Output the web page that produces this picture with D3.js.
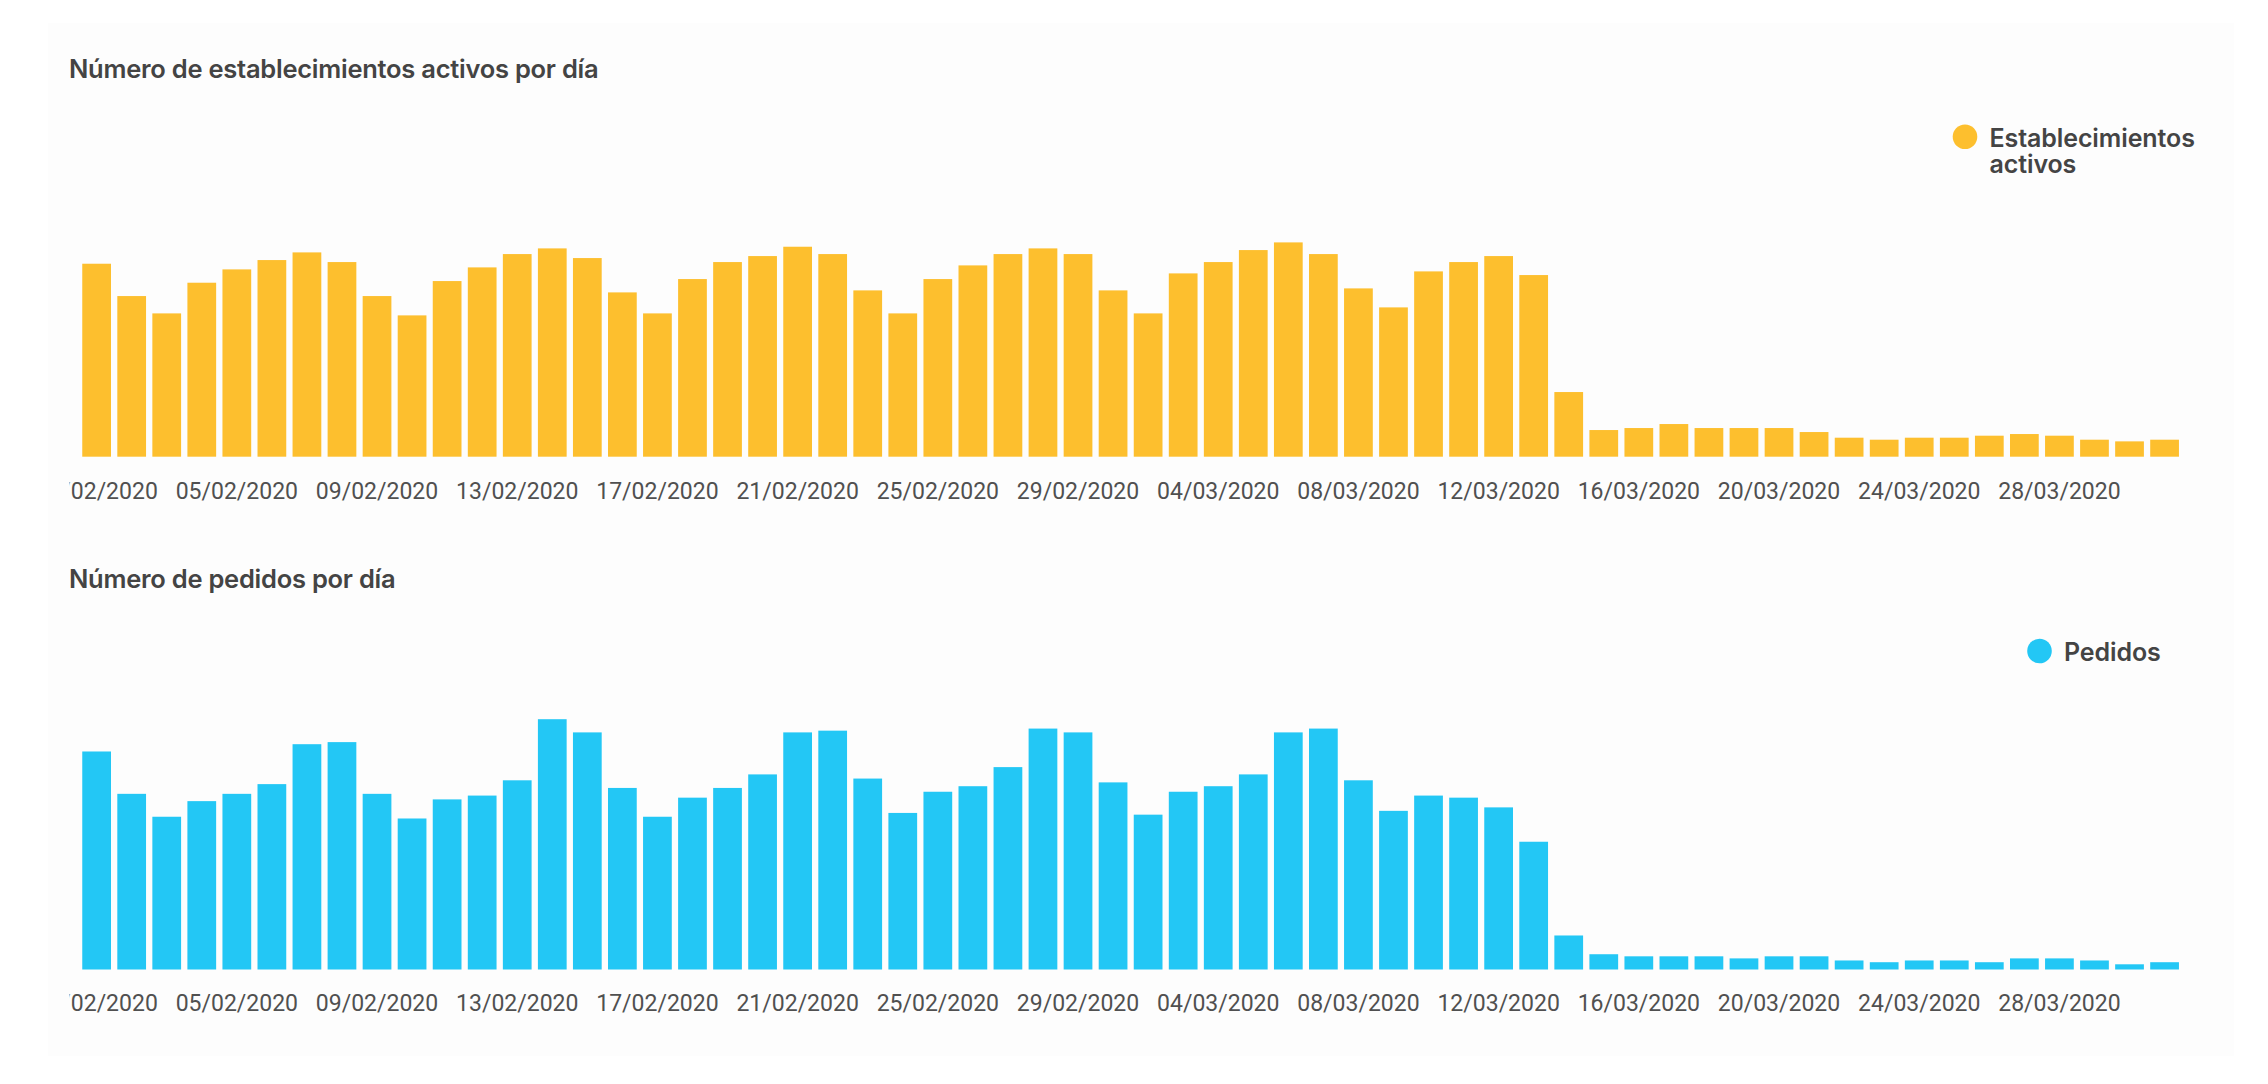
<!DOCTYPE html>
<html>
<head>
<meta charset="utf-8">
<script src="https://cdn.jsdelivr.net/npm/d3@7"></script>
<style>
  html, body { margin: 0; padding: 0; background: #ffffff; }
  svg { display: block; }
</style>
</head>
<body>
<svg id="chart" width="2268" height="1084"></svg>
<script>
// ---------- DATA ----------
const startDate = "2020-02-01";
const dayCount = 60; // 01/02/2020 .. 31/03/2020
const tickEvery = 4;

const titleTop = "Número de establecimientos activos por día";
const titleBottom = "Número de pedidos por día";
const legendTop = ["Establecimientos", "activos"];
const legendBottom = ["Pedidos"];

// relative values (no y axis shown)
const establecimientos = [
  579, 482, 430, 522, 562, 590, 613, 584, 482, 424,
  527, 568, 608, 625, 596, 493, 430, 533, 584, 602,
  630, 608, 499, 430, 533, 574, 608, 625, 608, 499,
  430, 550, 584, 620, 643, 608, 505, 448, 556, 584,
  602, 545, 194, 80, 86, 98, 86, 86, 86, 74,
  57, 51, 57, 57, 63, 68, 63, 51, 46, 51
];
const pedidos = [
  628, 506, 440, 485, 506, 534, 649, 655, 506, 435,
  490, 501, 545, 721, 683, 523, 440, 495, 523, 562,
  683, 688, 550, 451, 512, 528, 583, 694, 683, 539,
  446, 512, 528, 562, 683, 694, 545, 457, 501, 495,
  467, 368, 98, 44, 38, 38, 38, 32, 38, 38,
  26, 21, 26, 26, 21, 32, 32, 26, 15, 21
];

// ---------- SETUP ----------
const parse = d3.timeParse("%Y-%m-%d");
const fmt = d3.timeFormat("%d/%m/%Y");
const d0 = parse(startDate);
const dates = d3.range(dayCount).map(i => d3.timeDay.offset(d0, i));
const tickDates = dates.filter((d, i) => i % tickEvery === 0);

const svg = d3.select("#chart");
const textColor = "#444444";
const titleFont = "Inter, 'Noto Sans', sans-serif";
const axisFont = "Roboto, 'Liberation Sans', sans-serif";

// panel background
svg.append("rect")
  .attr("x", 48).attr("y", 23)
  .attr("width", 2186).attr("height", 1033)
  .attr("fill", "#fdfdfd");

const x = d3.scaleBand()
  .domain(dates)
  .range([79.1, 2182.1])
  .paddingInner(0.18)
  .paddingOuter(0.09);

// clip for clipped first label
svg.append("defs").append("clipPath").attr("id", "axisclip")
  .append("rect").attr("x", 69.5).attr("y", 0).attr("width", 2200).attr("height", 1084);

function panel(cfg) {
  const g = svg.append("g");
  const y = d3.scaleLinear().domain([0, cfg.maxVal]).range([cfg.base, cfg.base - cfg.maxPx]);

  // title
  g.append("text")
    .attr("x", cfg.titleX).attr("y", cfg.titleY)
    .attr("font-family", titleFont)
    .attr("font-weight", 600)
    .attr("font-size", 25.5)
    .attr("letter-spacing", -0.25)
    .attr("fill", textColor)
    .text(cfg.title);

  // bars
  g.append("g").selectAll("rect")
    .data(cfg.values)
    .join("rect")
    .attr("x", (d, i) => x(dates[i]))
    .attr("width", x.bandwidth())
    .attr("y", d => y(d))
    .attr("height", d => y(0) - y(d))
    .attr("fill", cfg.color);

  // axis
  const axis = d3.axisBottom(x)
    .tickValues(tickDates)
    .tickFormat(fmt)
    .tickSize(0)
    .tickPadding(25.5);
  const ag = g.append("g")
    .attr("transform", `translate(0,${cfg.base})`)
    .attr("clip-path", "url(#axisclip)")
    .call(axis);
  ag.select(".domain").remove();
  ag.selectAll("text")
    .attr("font-family", axisFont)
    .attr("font-size", 23)
    .attr("fill", "#505050");

  // legend
  const lg = g.append("g");
  lg.append("circle")
    .attr("cx", cfg.legX).attr("cy", cfg.legY)
    .attr("r", 12.3)
    .attr("fill", cfg.color);
  cfg.legend.forEach((t, i) => {
    lg.append("text")
      .attr("x", cfg.legX + 24.5)
      .attr("y", cfg.legY + 10 + i * 26.6)
      .attr("font-family", titleFont)
      .attr("font-weight", 600)
      .attr("font-size", 25)
      .attr("letter-spacing", -0.1)
      .attr("fill", textColor)
      .text(t);
  });
}

panel({
  title: titleTop, titleX: 69, titleY: 77.5,
  values: establecimientos, maxVal: 643, maxPx: 214.3, base: 456.7,
  color: "#FDBF2E",
  legend: legendTop, legX: 1965, legY: 136.7
});

panel({
  title: titleBottom, titleX: 69, titleY: 588,
  values: pedidos, maxVal: 721, maxPx: 250.3, base: 969.5,
  color: "#23C7F5",
  legend: legendBottom, legX: 2039.5, legY: 651
});
</script>
</body>
</html>
